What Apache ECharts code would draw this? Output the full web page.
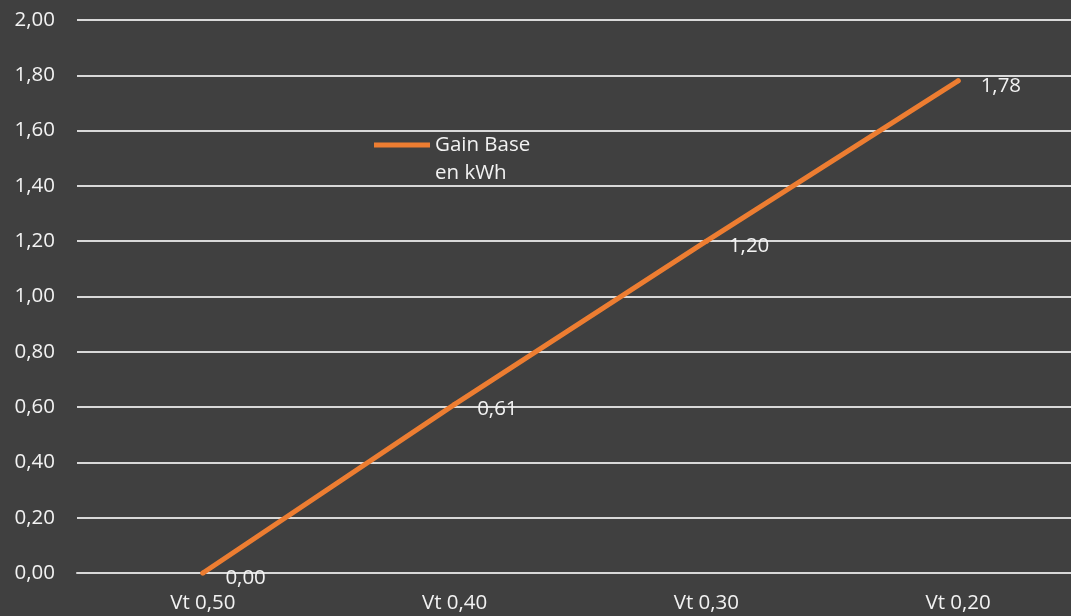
<!DOCTYPE html>
<html>
<head>
    <meta charset="UTF-8">
    <title>gain</title>
    <script src="https://cdn.jsdelivr.net/npm/echarts@6/dist/echarts.min.js"></script>
    <style>
        *{margin:0;padding:0}
        html,body{width:100%;height:100%;background:#404040}
        #main{width:1071px;height:616px}
    </style>
</head>
<body>
<div id="main"></div>
<script type="text/javascript">
    // données
    var categories = ['Vt 0,50', 'Vt 0,40', 'Vt 0,30', 'Vt 0,20'];
    var gainBase = [0.00, 0.61, 1.20, 1.78];
    var seriesName = 'Gain Base en kWh';

    function virgule(v) {
        return Number(v).toFixed(2).replace('.', ',');
    }

    var myChart = echarts.init(document.getElementById('main'));

    var option = {
        backgroundColor: '#404040',
        textStyle: {fontFamily: 'Open Sans'},
        grid: {left: 77, top: 20, width: 1007, height: 553, outerBoundsMode: 'none'},
        legend: {
            left: 369,
            top: 98,
            itemWidth: 56,
            itemHeight: 5,
            itemGap: 0,
            icon: 'rect',
            // ligne vide en tête pour aligner le trait sur "Gain Base"
            formatter: function () { return '\nGain Base\nen kWh'; },
            textStyle: {
                color: '#f2f2f2',
                fontSize: 20.5,
                lineHeight: 28
            },
            data: [seriesName]
        },
        xAxis: {
            type: 'category',
            data: categories,
            axisTick: {show: false},
            axisLine: {lineStyle: {color: '#d9d9d9', width: 2}},
            axisLabel: {color: '#f2f2f2', fontSize: 20.5, margin: 20}
        },
        yAxis: {
            type: 'value',
            min: 0,
            max: 2,
            interval: 0.2,
            axisLabel: {color: '#f2f2f2', fontSize: 20.5, margin: 22, formatter: virgule},
            splitLine: {lineStyle: {color: '#d9d9d9', width: 2}}
        },
        series: [{
            name: seriesName,
            type: 'line',
            data: gainBase,
            symbol: 'circle',
            symbolSize: 5,
            itemStyle: {color: '#ed7d31'},
            lineStyle: {color: '#ed7d31', width: 5, cap: 'round'},
            label: {
                show: true,
                position: 'right',
                distance: 20,
                offset: [0, 5],
                color: '#f2f2f2',
                fontSize: 20.5,
                formatter: function (p) { return virgule(p.value); }
            }
        }]
    };

    myChart.setOption(option);
</script>
</body>
</html>
